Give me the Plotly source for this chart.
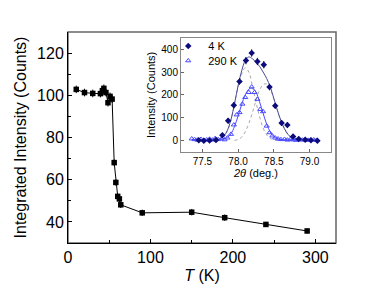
import plotly.graph_objects as go

# ---- main panel data: integrated intensity vs temperature ----
T_K = [10, 20, 30, 39.3, 41.7, 43.5, 46.0, 48.5, 51.0, 53.5, 56.0, 58.0, 60.3, 62.3, 64.0, 90, 150, 190, 240, 290]
I_counts = [102.8, 101.3, 100.9, 100.8, 102.2, 103.3, 101.3, 96.5, 99.5, 98.2, 68.1, 58.7, 52.1, 50.9, 48.1, 44.3, 44.6, 42.0, 38.8, 35.7]
I_err = [1.8, 1.8, 1.8, 1.8, 1.8, 1.8, 1.8, 1.8, 1.8, 1.8, 1.5, 1.5, 1.5, 1.5, 1.5, 1.5, 1.5, 1.5, 1.2, 1.2]

# ---- inset data: peak profiles ----
tt_4K = [77.45, 77.52, 77.60, 77.69, 77.78, 77.86, 77.94, 78.02, 78.11, 78.19, 78.27,
         78.36, 78.44, 78.52, 78.61, 78.69, 78.77, 78.85, 78.94, 79.02, 79.11]
cnt_4K = [2, 0, 1, 3, 23, 87, 155, 259, 350, 383, 346, 332, 234, 152, 77, 68, 18, 7, 4, 2, -1]
err_4K = [8, 8, 8, 8, 10, 12, 14, 14, 16, 16, 16, 16, 14, 12, 12, 12, 10, 8, 8, 8, 8]

tt_290K = [77.35, 77.39, 77.43, 77.48, 77.52, 77.56, 77.60, 77.64, 77.68, 77.72, 77.77, 77.81, 77.85,
           77.90, 77.94, 77.98, 78.02, 78.06, 78.10, 78.15, 78.19, 78.23, 78.27, 78.31, 78.35,
           78.40, 78.44, 78.48, 78.52, 78.56, 78.60, 78.65, 78.69, 78.73, 78.77, 78.81, 78.85,
           78.90, 78.94, 78.98, 79.02, 79.06, 79.10]
cnt_290K = [8, 5, 3, 6, 2, 4, 7, 3, 10, 5, 8, 4, 12,
            28, 69, 113, 123, 160, 189, 211, 235, 211, 181, 137, 127,
            64, 35, 21, 12, 8, 5, 6, 3, 5, 4, 2, 5,
            3, 4, 2, 3, 4, 2]

fit4_x = [77.40, 77.60, 77.70, 77.75, 77.80, 77.85, 77.90, 77.95, 78.00, 78.05, 78.10, 78.15, 78.20,
          78.25, 78.30, 78.35, 78.40, 78.45, 78.50, 78.55, 78.60, 78.65, 78.70, 78.75, 78.80, 78.90, 79.10]
fit4_y = [0, 1, 3, 8, 20, 45, 92, 162, 240, 305, 350, 366, 358,
          343, 325, 300, 272, 235, 185, 133, 87, 52, 27, 12, 5, 1, 0]

fit290_x = [77.35, 77.70, 77.80, 77.85, 77.90, 77.95, 78.00, 78.05, 78.10, 78.15, 78.20, 78.25,
            78.30, 78.35, 78.40, 78.45, 78.50, 78.55, 78.60, 78.80, 79.12]
fit290_y = [5, 5, 8, 14, 30, 62, 108, 158, 200, 225, 230, 212, 170, 120, 72, 38, 18, 9, 5, 4, 4]

comp1_x = [77.70, 77.80, 77.85, 77.90, 77.95, 78.00, 78.05, 78.10, 78.15, 78.20, 78.25,
           78.30, 78.35, 78.40, 78.45, 78.50, 78.60]
comp1_y = [2, 18, 42, 90, 160, 235, 290, 318, 300, 240, 170, 105, 55, 25, 10, 3, 0]

comp2_x = [77.95, 78.00, 78.05, 78.10, 78.15, 78.20, 78.25, 78.30, 78.35, 78.40, 78.45,
           78.50, 78.55, 78.60, 78.65, 78.70, 78.75, 78.80, 78.90]
comp2_y = [1, 5, 15, 38, 75, 122, 175, 220, 245, 248, 225, 182, 132, 86, 50, 25, 10, 4, 0]

legend_names = ["4 K", "290 K"]

NAVY = "#0c0c7a"
NAVY_LINE = "#4a4a96"
BLUE = "#4a4aff"
FONT = "Liberation Sans, Arial, sans-serif"

fig = go.Figure()

# main data
fig.add_trace(go.Scatter(
    x=T_K, y=I_counts, mode="lines+markers",
    line=dict(color="black", width=1),
    marker=dict(symbol="square", size=5.5, color="black"),
    error_y=dict(type="data", array=I_err, color="black", thickness=1, width=0),
    showlegend=False, xaxis="x", yaxis="y"))

# inset: component curves (dotted grey)
for cx, cy in [(comp1_x, comp1_y), (comp2_x, comp2_y)]:
    fig.add_trace(go.Scatter(
        x=cx, y=cy, mode="lines", line=dict(color="#a8a8a8", width=1, dash="dot", shape="spline"),
        showlegend=False, xaxis="x2", yaxis="y2"))

# inset fits
fig.add_trace(go.Scatter(
    x=fit4_x, y=fit4_y, mode="lines", line=dict(color=NAVY_LINE, width=1, shape="spline"),
    showlegend=False, xaxis="x2", yaxis="y2"))
fig.add_trace(go.Scatter(
    x=fit290_x, y=fit290_y, mode="lines", line=dict(color=BLUE, width=1, shape="spline"),
    showlegend=False, xaxis="x2", yaxis="y2"))

# inset data
fig.add_trace(go.Scatter(
    x=tt_290K, y=cnt_290K, mode="markers",
    marker=dict(symbol="triangle-up-open", size=4.5, color=BLUE, line=dict(width=1)),
    name=legend_names[1], showlegend=False, xaxis="x2", yaxis="y2"))
fig.add_trace(go.Scatter(
    x=tt_4K, y=cnt_4K, mode="markers",
    marker=dict(symbol="diamond", size=5, color=NAVY),
    error_y=dict(type="data", array=err_4K, color=NAVY, thickness=1, width=0),
    name=legend_names[0], showlegend=False, xaxis="x2", yaxis="y2"))

# legend entries (one legend box per entry, for exact row placement)
fig.add_trace(go.Scatter(
    x=[None], y=[None], mode="markers", name=legend_names[0], legend="legend",
    marker=dict(symbol="diamond", size=5, color=NAVY), xaxis="x2", yaxis="y2"))
fig.add_trace(go.Scatter(
    x=[None], y=[None], mode="markers", name=legend_names[1], legend="legend2",
    marker=dict(symbol="triangle-up-open", size=4.5, color=BLUE, line=dict(width=1)),
    xaxis="x2", yaxis="y2"))

leg_common = dict(xanchor="left", yanchor="middle", bgcolor="rgba(0,0,0,0)",
                  font=dict(size=11, family=FONT), itemwidth=30, borderwidth=0)

fig.update_layout(
    width=390, height=293,
    margin=dict(l=68, r=54, t=32, b=50),
    paper_bgcolor="white", plot_bgcolor="white",
    font=dict(family=FONT, color="black", size=16),
    showlegend=True,
    legend=dict(x=0.374, y=0.934, **leg_common),
    legend2=dict(x=0.374, y=0.864, **leg_common),
    xaxis=dict(domain=[0, 1], range=[0, 325], tickvals=[0, 100, 200, 300],
               ticks="inside", ticklen=4, tickcolor="black",
               minor=dict(dtick=50, ticks="inside", ticklen=3, tickcolor="black"),
               showline=True, linecolor="black", linewidth=1,
               showgrid=False, zeroline=False,
               tickfont=dict(size=16),
               title=dict(text="<i>T</i> (K)", font=dict(size=16), standoff=4)),
    yaxis=dict(domain=[0, 1], range=[30, 130], tickvals=[40, 60, 80, 100, 120],
               ticks="inside", ticklen=4, tickcolor="black",
               minor=dict(dtick=10, ticks="inside", ticklen=3, tickcolor="black"),
               showline=True, linecolor="black", linewidth=1,
               showgrid=False, zeroline=False,
               tickfont=dict(size=16),
               title=dict(text="Integrated Intensity (Counts)", font=dict(size=16), standoff=6)),
    xaxis2=dict(domain=[0.4216, 0.981], anchor="y2", range=[77.2, 79.3],
                tickvals=[77.5, 78.0, 78.5, 79.0], ticktext=["77.5", "78.0", "78.5", "79.0"],
                ticks="inside", ticklen=3, tickcolor="#666",
                showline=True, linecolor="#888", linewidth=1, mirror=True,
                showgrid=False, zeroline=False, tickfont=dict(size=10),
                title=dict(text="<i>2θ</i> (deg.)", font=dict(size=11), standoff=1)),
    yaxis2=dict(domain=[0.431, 0.973], anchor="x2", range=[-50, 450],
                tickvals=[0, 100, 200, 300, 400],
                ticks="inside", ticklen=3, tickcolor="#666",
                showline=True, linecolor="#888", linewidth=1, mirror=True,
                showgrid=False, zeroline=False, tickfont=dict(size=10),
                title=dict(text="Intensity (Counts)", font=dict(size=11), standoff=3)),
    shapes=[dict(type="rect", xref="paper", yref="paper", x0=0, x1=1, y0=0, y1=1,
                 line=dict(color="#666", width=1.5), layer="below")],
)

fig.write_html("out.html", config={"displayModeBar": False},
               post_script="document.body.style.margin='0';document.body.style.overflow='hidden';")
